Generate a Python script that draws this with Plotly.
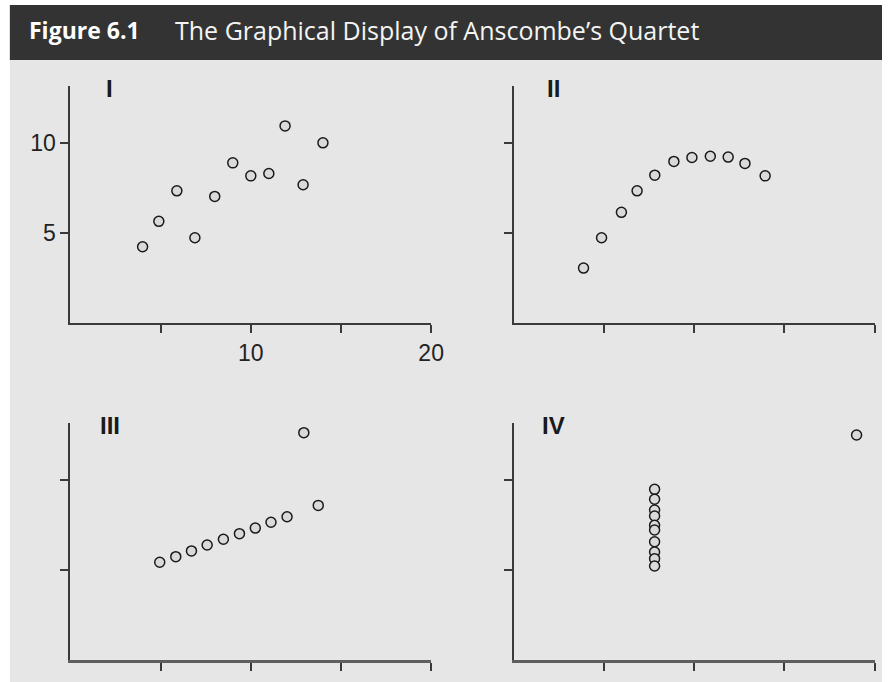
import plotly.graph_objects as go

# ---- data ----
x1 = [4.0, 4.9, 5.9, 6.9, 8.0, 9.0, 10.0, 11.0, 11.9, 12.9, 14.0]
y1 = [4.24, 5.65, 7.34, 4.74, 7.03, 8.89, 8.17, 8.30, 10.94, 7.68, 10.0]

x2 = [3.86, 4.86, 5.96, 6.83, 7.81, 8.87, 9.87, 10.89, 11.88, 12.81, 13.93]
y2 = [3.06, 4.74, 6.15, 7.34, 8.21, 8.97, 9.19, 9.26, 9.21, 8.86, 8.17]

x3 = [4.95, 5.84, 6.71, 7.58, 8.48, 9.37, 10.25, 11.12, 12.01, 12.94, 13.74]
y3 = [5.43, 5.74, 6.06, 6.39, 6.71, 7.02, 7.33, 7.65, 7.96, 12.63, 8.59]

x4 = [7.8, 7.8, 7.8, 7.8, 7.8, 7.8, 7.8, 7.8, 7.8, 7.8, 19.0]
y4 = [9.48, 8.93, 8.33, 8.00, 7.48, 7.22, 6.57, 6.00, 5.63, 5.22, 12.5]

panel_names = ["I", "II", "III", "IV"]
x_tickvals = [5, 10, 15, 20]
x_ticktext = ["", "10", "", "20"]
y_tickvals = [5, 10]
y_ticktext = ["5", "10"]

title_bold = "Figure 6.1"
title_text = "The Graphical Display of Anscombe\u2019s Quartet"

W, H = 895, 682

def px(x):
    return x / W

def py(y):
    return 1 - y / H

xdom_left = [px(71.5), px(437.5)]
xdom_right = [px(521.5), px(887.5)]
ydom_top = [py(323.3), py(86)]
ydom_bot = [py(660), py(423.3)]

AX = "#3a3a3a"
AX_BOT = "#5e5e5e"
fig = go.Figure()

series = [(x1, y1), (x2, y2), (x3, y3), (x4, y4)]
for i, (xs, ys) in enumerate(series):
    sfx = "" if i == 0 else str(i + 1)
    fig.add_trace(go.Scatter(
        x=xs, y=ys, mode="markers",
        xaxis="x" + sfx, yaxis="y" + sfx,
        marker=dict(symbol="circle", size=10, color="#dadada",
                    line=dict(color="#1a1a1a", width=1.5)),
        showlegend=False, hoverinfo="skip"))

doms = [(xdom_left, ydom_top), (xdom_right, ydom_top),
        (xdom_left, ydom_bot), (xdom_right, ydom_bot)]

layout = dict(
    width=W, height=H, autosize=False,
    margin=dict(l=0, r=0, t=0, b=0),
    paper_bgcolor="#ffffff",
    plot_bgcolor="rgba(0,0,0,0)",
    font=dict(family="Liberation Sans, Arial, sans-serif", color="#222222", size=23),
)

for i, (xd, yd) in enumerate(doms):
    sfx = "" if i == 0 else str(i + 1)
    first = (i == 0)
    bottom = i >= 2
    layout["xaxis" + sfx] = dict(
        domain=xd, range=[0, 20], anchor="y" + sfx,
        showgrid=False, zeroline=False,
        showline=True, linecolor=AX_BOT if bottom else AX,
        linewidth=2.5 if bottom else 2,
        ticks="outside", ticklen=8, tickwidth=1.5, tickcolor=AX,
        tickmode="array", tickvals=x_tickvals,
        ticktext=x_ticktext if first else [""] * len(x_tickvals),
        tickfont=dict(size=23, color="#222222"),
        fixedrange=True)
    layout["yaxis" + sfx] = dict(
        domain=yd, range=[0, 13.15], anchor="x" + sfx,
        showgrid=False, zeroline=False,
        showline=True, linecolor=AX, linewidth=2,
        ticks="outside", ticklen=8, tickwidth=1.5, tickcolor=AX,
        tickmode="array", tickvals=y_tickvals,
        ticktext=y_ticktext if first else [""] * len(y_tickvals),
        tickfont=dict(size=23, color="#222222"),
        fixedrange=True)

fig.update_layout(**layout)

# background panels
fig.add_shape(type="rect", xref="paper", yref="paper",
              x0=px(10), x1=1, y0=0, y1=py(5),
              fillcolor="#e6e6e6", line_width=0, layer="below")
fig.add_shape(type="rect", xref="paper", yref="paper",
              x0=px(10), x1=1, y0=py(60), y1=py(5),
              fillcolor="#333333", line_width=0, layer="below")

# header title
fig.add_annotation(xref="paper", yref="paper", x=px(27), y=py(30),
                   xanchor="left", yanchor="middle", showarrow=False,
                   text="<b>" + title_bold + "</b>",
                   font=dict(family="Open Sans, Lato, sans-serif", size=23, color="#ffffff"))
fig.add_annotation(xref="paper", yref="paper", x=px(176), y=py(30),
                   xanchor="left", yanchor="middle", showarrow=False,
                   text=title_text,
                   font=dict(family="Open Sans, Lato, sans-serif", size=25, color="#f4f4f4"))

# panel labels
for i, name in enumerate(panel_names):
    sfx = "" if i == 0 else str(i + 1)
    fig.add_annotation(xref="x" + sfx + " domain", yref="y" + sfx + " domain",
                       x=0.109, y=1.0, yshift=-2,
                       xanchor="center", yanchor="middle", showarrow=False,
                       text="<b>" + name + "</b>",
                       font=dict(family="Liberation Sans, Arial, sans-serif",
                                 size=24, color="#1a1a1a"))

fig.write_html(
    "out.html",
    config={"responsive": False, "displayModeBar": False},
    post_script="document.documentElement.style.overflow='hidden';"
                "document.body.style.overflow='hidden';"
                "document.body.style.margin='0';",
)
